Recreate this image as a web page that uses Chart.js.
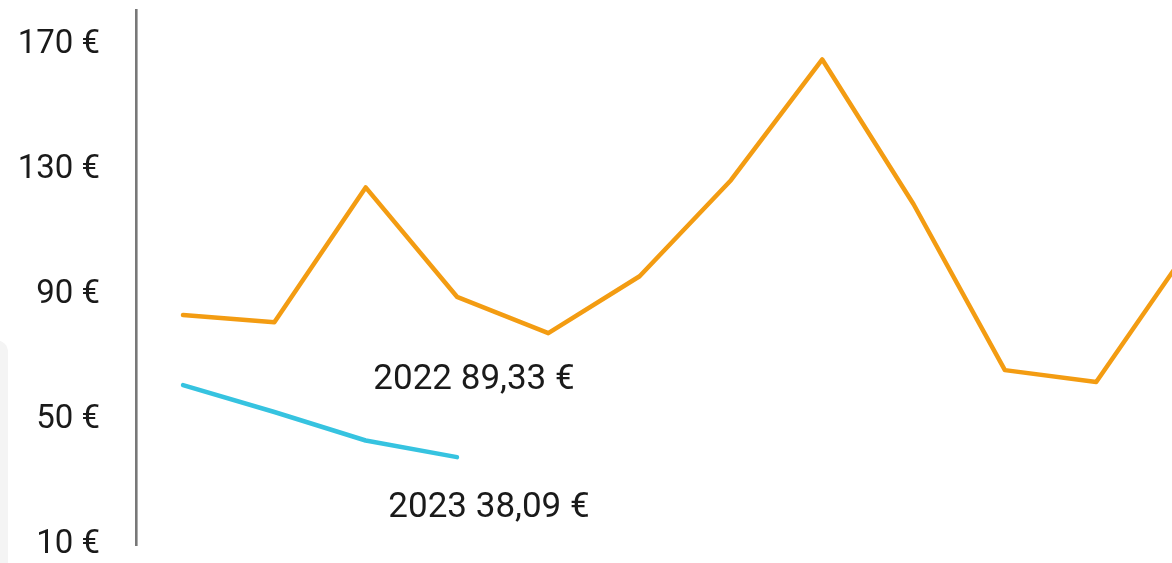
<!DOCTYPE html>
<html>
<head>
<meta charset="utf-8">
<script src="https://cdn.jsdelivr.net/npm/chart.js@4/dist/chart.umd.min.js"></script>
<style>
  html, body { margin: 0; padding: 0; background: #fff; overflow: hidden; }
  #wrap { position: relative; width: 1172px; height: 563px; }
  #panel { position: absolute; left: -20px; top: 340px; width: 28px; height: 260px;
           background: #f4f4f4; border-radius: 12px; }
  canvas { position: absolute; left: 0; top: 0; }
</style>
</head>
<body>
<div id="wrap">
  <div id="panel"></div>
  <canvas id="priceChart" width="1172" height="563"></canvas>
</div>
<script>
const months = ['Jan', 'Feb', 'Mär', 'Apr', 'Mai', 'Jun', 'Jul', 'Aug', 'Sep', 'Okt', 'Nov', 'Dez'];
const price2022 = [83.5, 81.2, 124.3, 89.33, 77.7, 95.9, 126.6, 165.2, 118.9, 65.9, 62.1, 104.2];
const price2023 = [61.1, 52.5, 43.4, 38.09];
const yTicks = [10, 50, 90, 130, 170];
const summary = ['2022 89,33 €', '2023 38,09 €'];

const fontFamily = 'Roboto, "Noto Sans", sans-serif';

const toPoints = arr => arr.map((v, i) => ({ x: i, y: v, label: months[i] }));

// the two summary texts under the lines
const summaryLabels = {
  id: 'summaryLabels',
  afterDraw(chart) {
    const ctx = chart.ctx;
    ctx.save();
    ctx.font = '400 35px ' + fontFamily;
    ctx.fillStyle = '#1a1a1a';
    ctx.textAlign = 'center';
    ctx.textBaseline = 'middle';
    ctx.fillText(summary[0], 474, 380);
    ctx.fillText(summary[1], 489, 508);
    ctx.restore();
  }
};

new Chart(document.getElementById('priceChart').getContext('2d'), {
  type: 'line',
  data: {
    datasets: [{
      label: '2022',
      data: toPoints(price2022),
      borderColor: '#f39c12',
      borderWidth: 4.5,
      pointRadius: 0,
      tension: 0,
      borderCapStyle: 'round',
      borderJoinStyle: 'round'
    }, {
      label: '2023',
      data: toPoints(price2023),
      borderColor: '#36c3e0',
      borderWidth: 4.5,
      pointRadius: 0,
      tension: 0,
      borderCapStyle: 'round',
      borderJoinStyle: 'round'
    }]
  },
  options: {
    responsive: false,
    animation: false,
    layout: { padding: { top: 10, right: 0, bottom: 18, left: 0 } },
    plugins: {
      legend: { display: false },
      tooltip: { enabled: false }
    },
    scales: {
      x: {
        type: 'linear',
        min: -0.515,
        max: 10.83,
        display: false
      },
      y: {
        min: 10,
        max: 181,
        afterFit(scale) {
          scale.width = 136;
          scale.paddingTop = 0;
          scale.paddingBottom = 0;
        },
        afterBuildTicks(scale) { scale.ticks = yTicks.map(v => ({ value: v })); },
        ticks: {
          padding: 36,
          color: '#1a1a1a',
          font: { family: fontFamily, size: 33, weight: 400 },
          callback: v => v + ' €'
        },
        grid: { display: false, drawTicks: false },
        border: { display: true, color: '#787878', width: 2.6 }
      }
    }
  },
  plugins: [summaryLabels]
});
</script>
</body>
</html>
